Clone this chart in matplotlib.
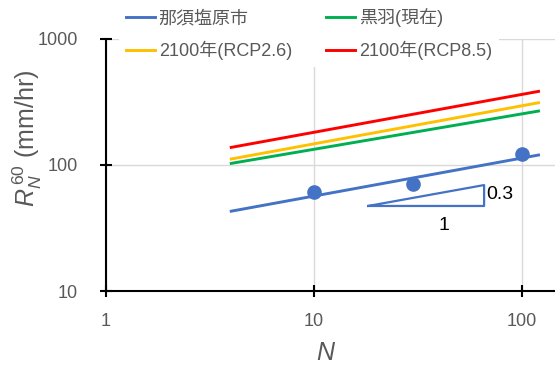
import numpy as np
import matplotlib
matplotlib.use('Agg')
import matplotlib.pyplot as plt

plt.rcParams['font.family'] = ['Liberation Sans', 'Noto Sans CJK JP', 'DejaVu Sans']
plt.rcParams['mathtext.fontset'] = 'custom'
plt.rcParams['mathtext.it'] = 'Liberation Sans:italic'
plt.rcParams['mathtext.rm'] = 'Liberation Sans'

# dane
n_line = [4, 120]
nasu_line = [43, 120]
kurobane_line = [103, 268]
rcp26_line = [111.6, 312]
rcp85_line = [138, 384]

n_obs = [10, 30, 100]
nasu_obs = [61, 71, 122]

# trójkąt nachylenia 0.3
tri_n = [18.2, 65.7, 65.7, 18.2]
tri_r = [47.3, 47.3, 69.3, 47.3]

labels = ['那須塩原市', '黒羽(現在)', '2100年(RCP2.6)', '2100年(RCP8.5)']
colors = ['#4472C4', '#00B050', '#FFC000', '#FF0000']

gray = '#595959'

fig = plt.figure(figsize=(5.55, 3.65), dpi=100)
ax = fig.add_axes([106 / 555, 74 / 365, 449 / 555, 252 / 365])

l1, = ax.plot(n_line, nasu_line, color=colors[0], lw=2.1)
l2, = ax.plot(n_line, kurobane_line, color=colors[1], lw=2.1)
l3, = ax.plot(n_line, rcp26_line, color=colors[2], lw=2.1)
l4, = ax.plot(n_line, rcp85_line, color=colors[3], lw=2.1)
ax.plot(n_obs, nasu_obs, 'o', color=colors[0], ms=9.5)
ax.plot(tri_n, tri_r, color=colors[0], lw=1.6)

ax.text(67.5, 58, '0.3', fontsize=14, va='center', ha='left', color='black')
ax.text(42, 33, '1', fontsize=14, va='center', ha='center', color='black')

ax.set_xscale('log')
ax.set_yscale('log')
ax.set_xlim(1, 144)
ax.set_ylim(10, 1000)
ax.set_xticks([1, 10, 100])
ax.set_xticklabels(['1', '10', '100'])
ax.set_yticks([10, 100, 1000])
ax.set_yticklabels(['10', '100', '1000'])
ax.minorticks_off()
ax.tick_params(direction='inout', length=8, width=1.5, color='black',
               labelcolor=gray, labelsize=13)
ax.tick_params(axis='x', pad=11.5)
ax.tick_params(axis='y', pad=16)
ax.grid(True, color='#D9D9D9', lw=1)
ax.set_axisbelow(True)

for s in ['top', 'right']:
    ax.spines[s].set_visible(False)
for s in ['left', 'bottom']:
    ax.spines[s].set_linewidth(1.5)
    ax.spines[s].set_color('black')

ax.set_xlabel('$\\mathit{N}$', fontsize=18, color=gray)
ax.set_ylabel('$\\mathit{R}_{\\mathit{N}}^{\\,\\mathit{60}}$ (mm/hr)', fontsize=18, color=gray)
ax.xaxis.set_label_coords((326 - 106) / 449, (291 - 341) / 252)
ax.yaxis.set_label_coords((44 - 106) / 449, (291 - 138) / 252)

# kolejność jak w oryginale (wypełnianie kolumnami)
leg = fig.legend([l1, l3, l2, l4], [labels[0], labels[2], labels[1], labels[3]],
                 loc='upper left', bbox_to_anchor=(118 / 555, 1.0), ncol=2,
                 frameon=True, fontsize=13, handlelength=1.6, handletextpad=0.2,
                 columnspacing=1.9, labelspacing=0.75, borderaxespad=0.05)
leg.get_frame().set_edgecolor('none')
leg.get_frame().set_facecolor('white')
leg.get_frame().set_alpha(1)
for t in leg.get_texts():
    t.set_color(gray)

fig.savefig('out.png', dpi=100)
